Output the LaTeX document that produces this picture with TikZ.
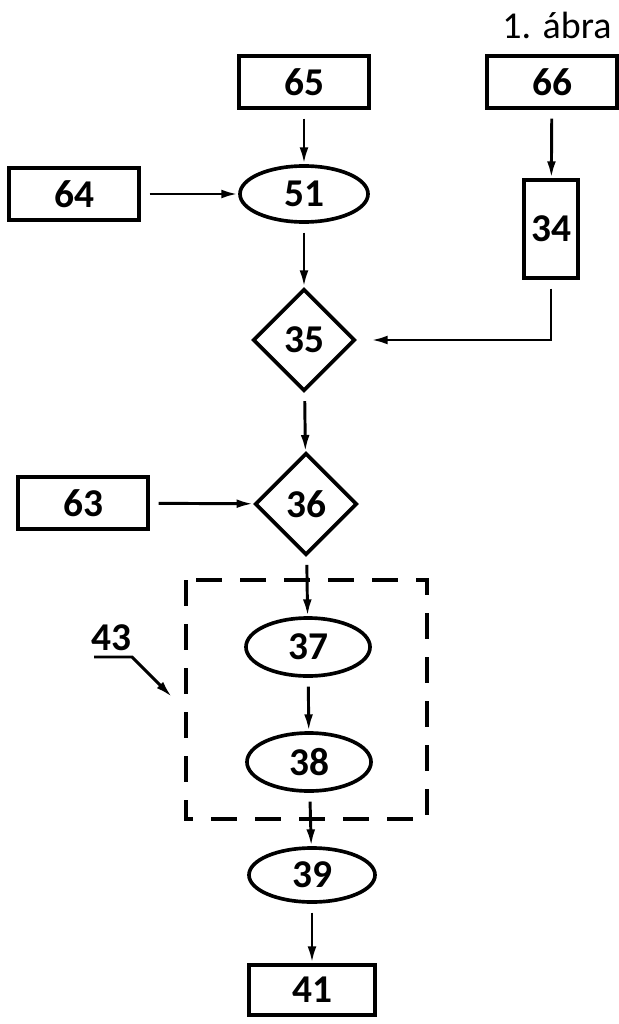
\documentclass[tikz,border=0pt]{standalone}
\usepackage{fontspec}
\setmainfont{Carlito}
\usetikzlibrary{shapes.geometric,arrows.meta}

\tikzset{
  blk/.style={draw, line width=2.6pt, inner sep=0pt, minimum width=3.25cm, minimum height=1.3cm,
    font=\fontsize{28}{32}\selectfont\bfseries},
  oval/.style={blk, ellipse, minimum width=3.2cm, minimum height=1.4cm},
  rhomb/.style={blk, diamond, minimum width=2.55cm, minimum height=2.55cm},
  flow/.style={line width=2.1pt, -{Latex[length=0.42cm,width=0.22cm]}, shorten <=0.22cm},
}

\begin{document}
\begin{tikzpicture}[x=0.025cm, y=-0.025cm]

\useasboundingbox (0,0) rectangle (618,1024);

\node[font=\fontsize{27}{30}\selectfont] (title) at (557,25) {1. ábra};

% inputs
\node[blk] (n65) at (304,82) {65};
\node[blk] (n66) at (552,82) {66};
\node[blk] (n64) at (74,194) {64};
\node[blk] (n63) at (83,503) {63};
\node[blk, minimum width=1.35cm, minimum height=2.45cm] (n34) at (551,229) {34};

% main chain
\node[oval] (n51) at (304,194) {51};
\node[rhomb] (n35) at (304,340) {35};
\node[rhomb] (n36) at (306,504) {36};
\node[oval, minimum width=3.1cm, minimum height=1.45cm] (n37) at (308,647) {37};
\node[oval, minimum width=3.1cm, minimum height=1.45cm] (n38) at (309,762) {38};
\node[oval, minimum width=3.15cm, minimum height=1.35cm] (n39) at (312,875) {39};
\node[blk, minimum width=3.15cm, minimum height=1.25cm] (n41) at (312,990) {41};

% block 43
\draw[line width=2.5pt, dash pattern=on 0.65cm off 0.45cm] (186,580) rectangle (427,819);
\node[font=\fontsize{28}{32}\selectfont\bfseries] (n43) at (111,638) {43};
\coordinate (l43a) at (94,657);
\coordinate (l43b) at (132,657);
\coordinate (l43c) at (172,697);
\draw[line width=2.1pt, -{Latex[length=0.42cm,width=0.22cm]}] (l43a) -- (l43b) -- (l43c);

% connectors
\draw[flow] (n65) -- (n51);
\draw[flow] (n64) -- (n51);
\draw[flow] (n66) -- (n34);
\draw[flow] (n51) -- (n35);
\draw[flow, shorten >=0.35cm] (n34.south) |- (n35.east);
\draw[flow] (n35) -- (n36);
\draw[flow] (n63) -- (n36);
\draw[flow] (n36) -- (n37);
\draw[flow] (n37) -- (n38);
\draw[flow] (n38) -- (n39);
\draw[flow] (n39) -- (n41);

\end{tikzpicture}
\end{document}
